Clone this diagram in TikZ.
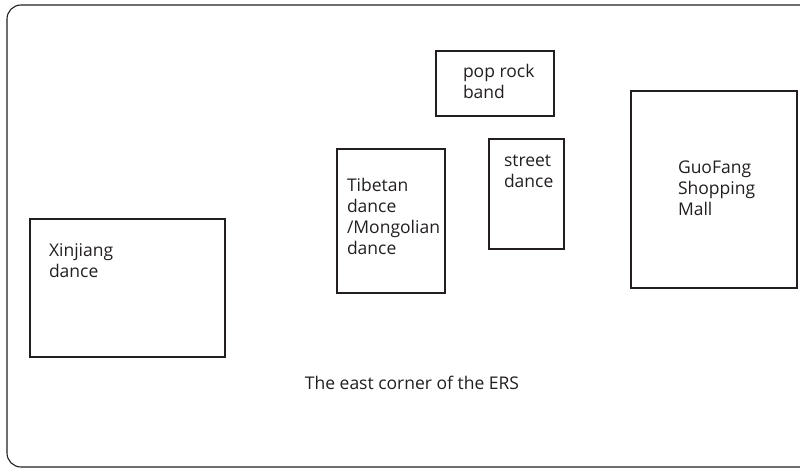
\documentclass[tikz,border=0pt]{standalone}
\usepackage{fontspec}
\setmainfont{Open Sans}
\definecolor{ink}{HTML}{231F20}
\begin{document}
\begin{tikzpicture}[x=1pt,y=-1pt,
  box/.style={draw=ink, line width=1.1pt, inner sep=0pt, outer sep=0pt, anchor=north west},
  lbl/.style={text=ink, inner sep=0pt, outer sep=0pt, font=\fontsize{17.5}{21}\selectfont}]
\useasboundingbox (0,0) rectangle (800,469);
\begin{scope}
\clip (0,0) rectangle (800,469);
\draw[ink, line width=1.1pt, rounded corners=14pt] (7,5) rectangle (814,467);
\end{scope}
% boxes
\node[box, minimum width=195pt, minimum height=138pt] (xj) at (30,219) {};
\node[box, minimum width=108pt, minimum height=144pt] (tb) at (337,149) {};
\node[box, minimum width=118pt, minimum height=65pt] (pr) at (436,51) {};
\node[box, minimum width=75pt, minimum height=110pt] (sd) at (489,139) {};
\node[box, minimum width=166pt, minimum height=197pt] (gf) at (631,91) {};
% texts
\node[lbl, anchor=base west] (xjt) at (49,256) {\begin{tabular}[t]{@{}l@{}}Xinjiang\\dance\end{tabular}};
\node[lbl, anchor=base west] (tbt) at (347,191.5) {\begin{tabular}[t]{@{}l@{}}Tibetan\\dance\\/Mongolian\\dance\end{tabular}};
\node[lbl, anchor=base west] (prt) at (463,77.5) {\begin{tabular}[t]{@{}l@{}}pop rock\\band\end{tabular}};
\node[lbl, anchor=base west] (sdt) at (504,166.5) {\begin{tabular}[t]{@{}l@{}}street\\dance\end{tabular}};
\node[lbl, anchor=base west] (gft) at (678,173) {\begin{tabular}[t]{@{}l@{}}GuoFang\\Shopping\\Mall\end{tabular}};
\node[lbl, anchor=base] (ers) at (412,389) {The east corner of the ERS};
\end{tikzpicture}
\end{document}
